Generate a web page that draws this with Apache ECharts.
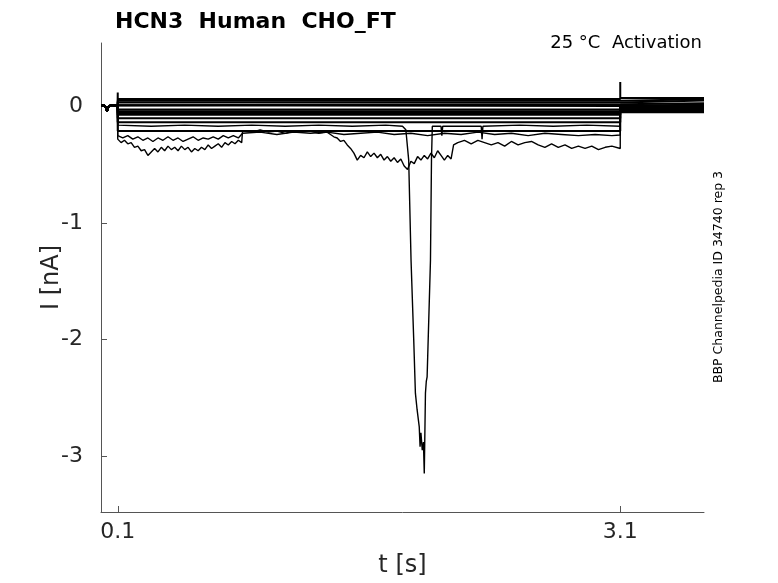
<!DOCTYPE html>
<html>
<head>
<meta charset="utf-8">
<script src="https://cdn.jsdelivr.net/npm/echarts@6/dist/echarts.min.js"></script>
<style>
html, body { margin: 0; padding: 0; background: #fff; }
#main { width: 778px; height: 583px; }
</style>
</head>
<body>
<div id="main"></div>
<script>
// holding period before the step (same for all sweeps)
const preTime = [0, 0.02, 0.03, 0.036, 0.045, 0.06, 0.08, 0.099];
const preCurrent = [0.01, 0.008, -0.01, -0.04, 0.0, 0.012, 0.008, 0.01];

const stepStart = 0.1;
const stepEnd = 3.1;
const endTime = 3.6;

// flat sweeps: level during step and tail level (nA)
const flatStep = [0.065, 0.05, 0.035, 0.02, 0.005, -0.025, -0.04, -0.055, -0.07, -0.1, -0.135, -0.21];
const flatTail = [0.072, 0.062, 0.052, 0.028, 0.018, 0.008, -0.002, -0.012, -0.022, -0.032, -0.042, -0.05];

// capacitive transients at step on / off
const onsetPeak = 0.12;
const offsetPeak = 0.21;

// noisy sweep, deepest one
const traceA = [
    [0.1, -0.28], [0.12, -0.31], [0.14, -0.29], [0.16, -0.32], [0.18, -0.31], [0.2, -0.35],
    [0.22, -0.34], [0.24, -0.38], [0.26, -0.37], [0.28, -0.42], [0.3, -0.39], [0.32, -0.36],
    [0.34, -0.39], [0.36, -0.35], [0.38, -0.38], [0.4, -0.34], [0.42, -0.37], [0.44, -0.35],
    [0.46, -0.38], [0.48, -0.34], [0.5, -0.37], [0.52, -0.35], [0.54, -0.39], [0.56, -0.36],
    [0.58, -0.38], [0.6, -0.35], [0.62, -0.37], [0.64, -0.33], [0.66, -0.36], [0.68, -0.34],
    [0.7, -0.32], [0.72, -0.35], [0.74, -0.31], [0.76, -0.33], [0.78, -0.3], [0.8, -0.32],
    [0.82, -0.29], [0.84, -0.31],
    [0.845, -0.21], [0.9, -0.22], [0.95, -0.2], [1.0, -0.22], [1.05, -0.21], [1.1, -0.23],
    [1.15, -0.21], [1.2, -0.22], [1.25, -0.21], [1.3, -0.23], [1.35, -0.22],
    [1.37, -0.24], [1.39, -0.26], [1.41, -0.27], [1.43, -0.3], [1.45, -0.29], [1.47, -0.33],
    [1.49, -0.36], [1.51, -0.4], [1.53, -0.46], [1.55, -0.42], [1.57, -0.44], [1.59, -0.39],
    [1.61, -0.43], [1.63, -0.4], [1.65, -0.44], [1.67, -0.41], [1.69, -0.46], [1.71, -0.43],
    [1.73, -0.47], [1.75, -0.44], [1.77, -0.48], [1.79, -0.45], [1.81, -0.51], [1.83, -0.54],
    [1.85, -0.47], [1.87, -0.49], [1.89, -0.43], [1.91, -0.46], [1.93, -0.42], [1.95, -0.45],
    [1.97, -0.4], [1.99, -0.44], [2.01, -0.38], [2.03, -0.42], [2.05, -0.46], [2.07, -0.42],
    [2.09, -0.45], [2.105, -0.33],
    [2.13, -0.31], [2.17, -0.29], [2.21, -0.32], [2.25, -0.29], [2.29, -0.31], [2.33, -0.33],
    [2.37, -0.31], [2.41, -0.34], [2.45, -0.3], [2.49, -0.33], [2.53, -0.31], [2.57, -0.3],
    [2.61, -0.33], [2.65, -0.35], [2.69, -0.32], [2.73, -0.35], [2.77, -0.33], [2.81, -0.36],
    [2.85, -0.34], [2.89, -0.36], [2.93, -0.34], [2.97, -0.37], [3.01, -0.35], [3.05, -0.34],
    [3.1, -0.36]
];
const tailA = -0.02;

// second noisy sweep
const traceB = [
    [0.1, -0.25], [0.13, -0.27], [0.16, -0.25], [0.19, -0.28], [0.22, -0.26], [0.25, -0.29],
    [0.28, -0.27], [0.31, -0.3], [0.34, -0.27], [0.37, -0.29], [0.4, -0.26], [0.43, -0.29],
    [0.46, -0.27], [0.49, -0.3], [0.52, -0.28], [0.55, -0.26], [0.58, -0.29], [0.61, -0.27],
    [0.64, -0.28], [0.67, -0.26], [0.7, -0.28], [0.73, -0.25], [0.76, -0.27], [0.79, -0.25],
    [0.82, -0.27], [0.845, -0.23], [0.95, -0.22], [1.05, -0.24], [1.15, -0.22], [1.25, -0.23],
    [1.35, -0.22], [1.45, -0.24], [1.55, -0.23], [1.65, -0.22], [1.75, -0.24], [1.85, -0.23],
    [1.95, -0.25], [2.05, -0.23], [2.15, -0.24], [2.25, -0.22], [2.35, -0.24], [2.45, -0.23],
    [2.55, -0.25], [2.65, -0.23], [2.75, -0.24], [2.85, -0.25], [2.95, -0.24], [3.05, -0.25],
    [3.1, -0.245]
];
const tailB = 0.0;

// sweep with the large inward spike
const traceS = [
    [0.1, -0.16], [0.3, -0.17], [0.5, -0.16], [0.7, -0.17], [0.9, -0.16], [1.1, -0.17],
    [1.3, -0.16], [1.5, -0.17], [1.7, -0.16], [1.8, -0.17], [1.82, -0.2],
    [1.837, -0.46], [1.851, -1.32], [1.867, -2.0], [1.877, -2.46], [1.887, -2.6], [1.9, -2.75],
    [1.905, -2.92], [1.91, -2.8], [1.918, -2.95], [1.925, -2.88], [1.93, -3.15], [1.937, -2.46],
    [1.942, -2.36], [1.947, -2.32], [1.967, -1.32], [1.973, -0.46], [1.978, -0.17], [2.03, -0.17],
    [2.035, -0.25], [2.04, -0.17], [2.27, -0.17], [2.275, -0.28], [2.28, -0.17], [2.5, -0.16],
    [2.7, -0.17], [2.9, -0.16], [3.1, -0.17]
];
const tailS = -0.03;

const xTicks = [0.1, 3.1];
const yTicks = [0, -1, -2, -3];

const font = 'DejaVu Sans';

function preSegment() {
    return preTime.map((t, i) => [t, preCurrent[i]]);
}

// build one line per sweep: holding + step + tail
const sweeps = [];
flatStep.forEach((lvl, i) => {
    let d = preSegment();
    if (i === 0) d.push([stepStart, onsetPeak]);
    d.push([stepStart, lvl], [stepEnd, lvl]);
    if (i === 0) d.push([stepEnd, offsetPeak]);
    d.push([stepEnd, flatTail[i]], [endTime, flatTail[i]]);
    sweeps.push({ data: d, width: 2 });
});
sweeps.push({ data: preSegment().concat(traceA, [[stepEnd, tailA], [endTime, tailA]]), width: 1.4 });
sweeps.push({ data: preSegment().concat(traceB, [[stepEnd, tailB], [endTime, tailB]]), width: 1.4 });
sweeps.push({ data: preSegment().concat(traceS, [[stepEnd, tailS], [endTime, tailS]]), width: 1.4 });

const chart = echarts.init(document.getElementById('main'));
chart.setOption({
    animation: false,
    backgroundColor: '#fff',
    title: [
        {
            text: 'HCN3  Human  CHO_FT',
            left: 110, top: 6,
            textStyle: { fontFamily: font, fontSize: 22, fontWeight: 'bold', color: '#000' }
        },
        {
            text: '25 °C  Activation',
            right: 71, top: 29,
            textStyle: { fontFamily: font, fontSize: 18, fontWeight: 'normal', color: '#000' }
        }
    ],
    graphic: [{
        type: 'text',
        x: 719, y: 277,
        rotation: Math.PI / 2,
        style: {
            text: 'BBP Channelpedia ID 34740 rep 3',
            font: '12.5px "DejaVu Sans"',
            fill: '#000',
            align: 'center',
            verticalAlign: 'middle'
        }
    }],
    grid: { left: 101, right: 74, top: 43, bottom: 71 },
    xAxis: {
        type: 'value',
        min: 0, max: endTime,
        name: 't [s]',
        nameLocation: 'middle',
        nameGap: 42,
        nameMoveOverlap: false,
        nameTextStyle: { fontFamily: font, fontSize: 24, color: '#262626' },
        axisLine: { show: true, onZero: false, lineStyle: { color: '#555', width: 1 } },
        axisTick: { show: true, inside: true, length: 6, customValues: xTicks, lineStyle: { color: '#555' } },
        axisLabel: {
            customValues: xTicks, margin: 9,
            fontFamily: font, fontSize: 22, color: '#262626',
            formatter: v => v.toFixed(1)
        },
        splitLine: { show: false }
    },
    yAxis: {
        type: 'value',
        min: -3.48, max: 0.545,
        name: 'I [nA]',
        nameLocation: 'middle',
        nameGap: 37,
        nameMoveOverlap: false,
        nameTextStyle: { fontFamily: font, fontSize: 24, color: '#262626' },
        axisLine: { show: true, onZero: false, lineStyle: { color: '#555', width: 1 } },
        axisTick: { show: true, inside: true, length: 6, customValues: yTicks, lineStyle: { color: '#555' } },
        axisLabel: {
            customValues: yTicks, margin: 18,
            fontFamily: font, fontSize: 22, color: '#262626',
            formatter: v => String(v)
        },
        splitLine: { show: false }
    },
    series: sweeps.map(s => ({
        type: 'line',
        data: s.data,
        showSymbol: false,
        silent: true,
        lineStyle: { color: '#000', width: s.width }
    }))
});
</script>
</body>
</html>
